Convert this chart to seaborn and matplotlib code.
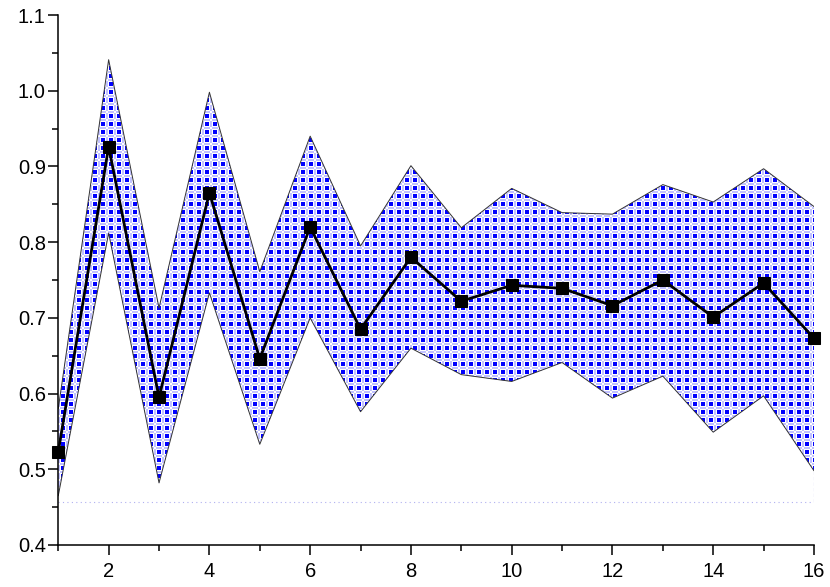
import numpy as np
import pandas as pd
import matplotlib
matplotlib.use("Agg")
import matplotlib.pyplot as plt
import seaborn as sns

# --- data ---
x_vals = list(range(1, 17))
mean_vals = [0.523, 0.926, 0.595, 0.865, 0.646, 0.820, 0.685, 0.780,
             0.722, 0.743, 0.739, 0.716, 0.750, 0.701, 0.746, 0.673]
upper_vals = [0.580, 1.041, 0.713, 0.998, 0.761, 0.940, 0.795, 0.901,
              0.819, 0.871, 0.839, 0.837, 0.876, 0.853, 0.897, 0.847]
lower_vals = [0.465, 0.812, 0.482, 0.733, 0.533, 0.700, 0.576, 0.660,
              0.625, 0.616, 0.641, 0.594, 0.623, 0.549, 0.597, 0.498]
baseline = 0.457

y_ticks = [0.4, 0.5, 0.6, 0.7, 0.8, 0.9, 1.0, 1.1]
x_ticks = [2, 4, 6, 8, 10, 12, 14, 16]

df = pd.DataFrame({"x": x_vals, "mean": mean_vals})

sns.set_style("ticks")
plt.rcParams["font.family"] = ["Liberation Sans", "DejaVu Sans"]

fig = plt.figure(figsize=(8.30, 5.87), dpi=100)
ax = fig.add_axes([0.0702, 0.0716, 0.9105, 0.9028])
ax.set_xlim(1, 16)
ax.set_ylim(0.4, 1.1)

# band with checker texture
band = ax.fill_between(x_vals, lower_vals, upper_vals, facecolor="none",
                       edgecolor="none", zorder=1)

H, W = 530, 756
r = np.arange(H)[:, None] % 8
c = np.arange(W)[None, :] % 8
tex = np.ones((H, W, 3))
lav = np.array([0.76, 0.76, 1.0])
lav_mask = ((r <= 1) | (c <= 1)) & ~((r <= 1) & (c <= 1))
tex[lav_mask] = lav
blue_mask = (r >= 3) & (r <= 6) & (c >= 3) & (c <= 6)
tex[blue_mask] = [0.0, 0.0, 1.0]
im = ax.imshow(tex, extent=(1, 16, 0.4, 1.1), aspect="auto",
               interpolation="nearest", zorder=1)
im.set_clip_path(band.get_paths()[0], transform=ax.transData)

# band outlines
ax.plot(x_vals, upper_vals, color="#333333", lw=0.7, zorder=2)
ax.plot(x_vals, lower_vals, color="#333333", lw=0.7, zorder=2)

# baseline artefact
ax.plot([1, 16], [baseline, baseline], color="#b0b0f0", lw=0.8,
        ls=(0, (1, 3)), zorder=2)
ax.plot([16, 16], [baseline, lower_vals[-1]], color="#8080e0", lw=0.8,
        ls=(0, (3, 2)), zorder=2)

# mean line
sns.lineplot(data=df, x="x", y="mean", ax=ax, color="black", lw=2,
             marker="s", markersize=8, markeredgecolor="black", zorder=3)
ax.lines[-1].set_clip_on(False)

ax.set_xlabel("")
ax.set_ylabel("")
ax.set_xticks(x_ticks)
ax.set_xticks(range(1, 17, 2), minor=True)
ax.set_yticks(y_ticks)
ax.set_yticklabels([f"{v:.1f}" for v in y_ticks])
ax.set_yticks(np.arange(0.45, 1.1, 0.1), minor=True)

for side in ["top", "right"]:
    ax.spines[side].set_visible(False)
for side in ["left", "bottom"]:
    ax.spines[side].set_linewidth(1.1)
    ax.spines[side].set_color("black")

ax.tick_params(which="major", length=7, width=1.1, color="black",
               labelsize=14.5, labelcolor="black")
ax.tick_params(which="minor", length=4, width=1.1, color="black")
ax.tick_params(axis="x", which="major", pad=5)
ax.tick_params(axis="y", which="major", pad=2)

fig.savefig("out.png", dpi=100)
